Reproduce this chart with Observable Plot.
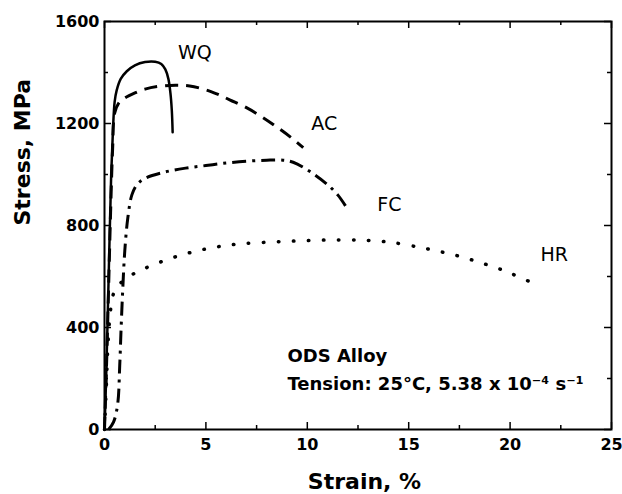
<!DOCTYPE html>
<html>
<head>
<meta charset="utf-8">
<script src="https://cdn.jsdelivr.net/npm/d3@7"></script>
<script src="https://cdn.jsdelivr.net/npm/@observablehq/plot@0.6"></script>
<style>
  html, body { margin: 0; padding: 0; background: #fff; }
  #chart svg { display: block; }
</style>
</head>
<body>
<div id="chart"></div>
<script>
// Tick values
const xTicks = [0, 5, 10, 15, 20, 25];
const xMinor = [2.5, 7.5, 12.5, 17.5, 22.5];
const yTicks = [0, 400, 800, 1200, 1600];
const yMinor = [200, 600, 1000, 1400];

// WQ (solid)
const wqStrain = [0, 0.08, 0.16, 0.25, 0.33, 0.42, 0.5, 0.6, 0.8, 1.1, 1.5, 2.0, 2.5, 2.8, 3.0, 3.15, 3.25, 3.32, 3.36];
const wqStress = [0, 200, 450, 750, 1000, 1180, 1285, 1330, 1375, 1405, 1428, 1441, 1442, 1433, 1412, 1375, 1320, 1250, 1166];

// AC (dashed)
const acStrain = [0, 0.1, 0.2, 0.3, 0.4, 0.5, 0.7, 1.0, 1.5, 2.0, 2.7, 3.5, 4.2, 5.0, 5.6, 6.2, 7.0, 7.8, 8.5, 9.2, 9.8];
const acStress = [0, 250, 550, 850, 1100, 1240, 1280, 1300, 1320, 1335, 1346, 1350, 1347, 1332, 1314, 1292, 1262, 1224, 1186, 1145, 1105];

// FC (dash-dot)
const fcStrain = [0.2, 0.45, 0.65, 0.75, 0.82, 0.9, 1.0, 1.15, 1.35, 1.6, 2.0, 3.0, 4.0, 5.0, 6.0, 7.0, 8.0, 8.8, 9.3, 10.2, 11.0, 11.5, 11.9];
const fcStress = [0, 30, 100, 250, 400, 550, 700, 830, 920, 960, 985, 1010, 1025, 1035, 1045, 1052, 1056, 1056, 1048, 1008, 960, 920, 875];

// HR (dotted)
const hrStrain = [0, 0.08, 0.15, 0.22, 0.3, 0.4, 0.55, 0.8, 1.2, 1.75, 2.7, 3.7, 4.7, 5.7, 6.7, 7.9, 9.4, 11.0, 12.5, 13.5, 14.3, 15.5, 16.3, 17.0, 17.8, 18.5, 19.3, 20.0, 20.9];
const hrStress = [0, 150, 300, 400, 470, 520, 555, 575, 600, 623, 655, 682, 703, 718, 728, 734, 739, 743, 743, 739, 732, 715, 702, 689, 673, 655, 635, 613, 582];

// Curve labels
const labelText = ["WQ", "AC", "FC", "HR"];
const labelStrain = [3.62, 10.2, 13.45, 21.5];
const labelStress = [1454, 1173, 856, 659];

// Annotation
const noteText = ["ODS Alloy", "Tension: 25\u00B0C, 5.38 x 10\u207B\u2074 s\u207B\u00B9"];
const noteStrain = [9.02, 9.02];
const noteStress = [263, 153];

const toPts = (xs, ys) => xs.map((x, i) => ({x, y: ys[i]}));
const wq = toPts(wqStrain, wqStress);
const ac = toPts(acStrain, acStress);
const fc = toPts(fcStrain, fcStress);
const hr = toPts(hrStrain, hrStress);
const labels = labelText.map((t, i) => ({t, x: labelStrain[i], y: labelStress[i]}));
const notes = noteText.map((t, i) => ({t, x: noteStrain[i], y: noteStress[i]}));

const W = 622, H = 494;
const mL = 104, mR = 11, mT = 21, mB = 65;
const pw = W - mL - mR, ph = H - mT - mB;
const major = 7, minor = 4;
const fmt = d => String(d);

const plot = Plot.plot({
  width: W,
  height: H,
  marginLeft: mL,
  marginRight: mR,
  marginTop: mT,
  marginBottom: mB,
  style: {fontFamily: "DejaVu Sans", fontSize: "16px", fontWeight: "bold", color: "#000", background: "#fff"},
  x: {domain: [0, 25], label: null},
  y: {domain: [0, 1600], label: null},
  marks: [
    Plot.axisX(xTicks, {tickSize: 0, tickPadding: 9, tickFormat: fmt, fontSize: 16, fontWeight: "bold", label: null}),
    Plot.axisY(yTicks, {tickSize: 0, tickPadding: 5, tickFormat: fmt, fontSize: 16, fontWeight: "bold", label: null}),
    // inward ticks on all four sides
    Plot.tickX(xTicks, {x: d => d, insetTop: ph - major, strokeWidth: 1.5}),
    Plot.tickX(xTicks, {x: d => d, insetBottom: ph - major, strokeWidth: 1.5}),
    Plot.tickX(xMinor, {x: d => d, insetTop: ph - minor, strokeWidth: 1.5}),
    Plot.tickX(xMinor, {x: d => d, insetBottom: ph - minor, strokeWidth: 1.5}),
    Plot.tickY(yTicks, {y: d => d, insetRight: pw - major, strokeWidth: 1.5}),
    Plot.tickY(yTicks, {y: d => d, insetLeft: pw - major, strokeWidth: 1.5}),
    Plot.tickY(yMinor, {y: d => d, insetRight: pw - minor, strokeWidth: 1.5}),
    Plot.tickY(yMinor, {y: d => d, insetLeft: pw - minor, strokeWidth: 1.5}),
    Plot.frame({stroke: "#000", strokeWidth: 2}),
    // curves
    Plot.line(hr, {x: "x", y: "y", curve: "catmull-rom", stroke: "#000", strokeWidth: 3.5, strokeDasharray: "0.5,14.5", strokeLinecap: "round"}),
    Plot.line(fc, {x: "x", y: "y", curve: "catmull-rom", stroke: "#000", strokeWidth: 3, strokeDasharray: "14,6,3,6", strokeLinecap: "butt"}),
    Plot.line(ac, {x: "x", y: "y", curve: "catmull-rom", stroke: "#000", strokeWidth: 3, strokeDasharray: "13,8", strokeLinecap: "butt"}),
    Plot.line(wq, {x: "x", y: "y", curve: "catmull-rom", stroke: "#000", strokeWidth: 2.5}),
    // curve labels
    Plot.text(labels, {x: "x", y: "y", text: "t", textAnchor: "start", lineAnchor: "bottom", fontSize: 19, fontWeight: "normal", fill: "#000"}),
    // annotation
    Plot.text(notes, {x: "x", y: "y", text: "t", textAnchor: "start", lineAnchor: "bottom", fontSize: 18, fontWeight: "bold", fill: "#000"}),
    // axis titles
    Plot.text(["Strain, %"], {frameAnchor: "bottom", dx: 6.5, dy: 59, lineAnchor: "bottom", fontSize: 22, fontWeight: "bold", fill: "#000"}),
    Plot.text(["Stress, MPa"], {frameAnchor: "left", dx: -74.5, rotate: -90, lineAnchor: "bottom", fontSize: 22, fontWeight: "bold", fill: "#000"})
  ]
});
document.getElementById("chart").appendChild(plot);
</script>
</body>
</html>
